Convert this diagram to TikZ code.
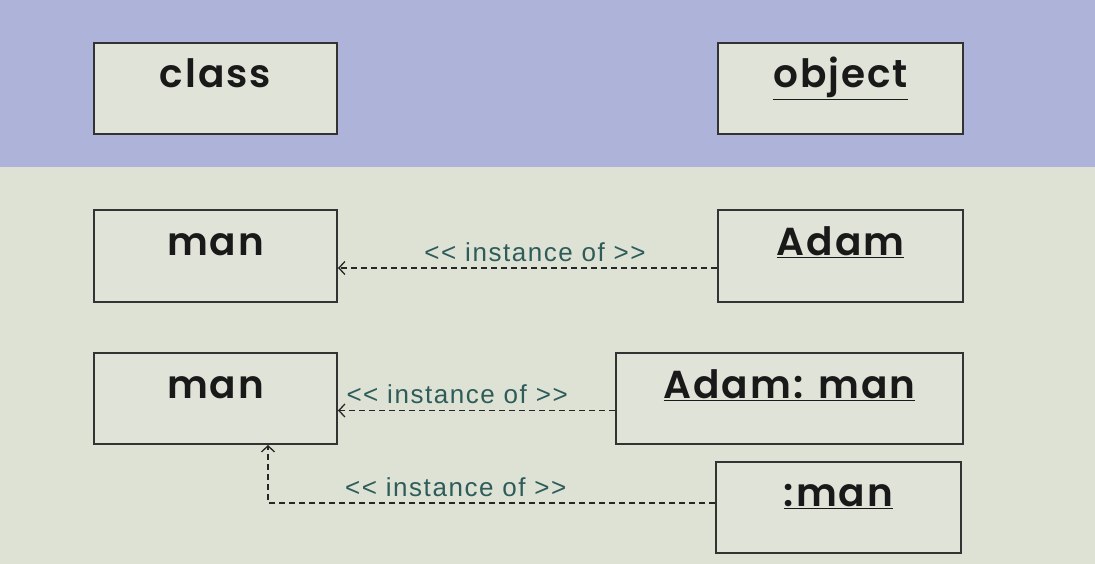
\documentclass[tikz,border=0pt]{standalone}
\usepackage{fontspec}
\setmainfont{Liberation Sans}
\newfontfamily\boxfont{Poppins SemiBold}[LetterSpace=5]
\newfontfamily\labelfont{Liberation Sans}[LetterSpace=6]
\usetikzlibrary{arrows.meta,positioning}
\definecolor{band}{HTML}{ADB3D9}
\definecolor{paper}{HTML}{DEE2D5}
\definecolor{boxfill}{HTML}{E0E4D8}
\definecolor{labelcol}{HTML}{2E5C5A}

\begin{document}
\begin{tikzpicture}[x=1pt, y=-1pt, -{Straight Barb[length=6pt,width=13pt]}, auto, thick]
			\tikzset{umlbox/.style={draw=black!80, line width=2pt, fill=boxfill, text=black!90,
				font=\boxfont\fontsize{39}{41}\selectfont,
				minimum width=243pt, inner xsep=0pt, inner ysep=15pt, text height=30pt, text depth=31pt}}
			\tikzset{inst/.style={dash pattern=on 6pt off 4pt, line width=1.3pt, draw=black!85}}
			\tikzset{instlabel/.style={text=labelcol, font=\labelfont\fontsize{26}{29}\selectfont, inner sep=6pt}}
			% Colors: band, paper, boxfill, labelcol

			% Background
			\useasboundingbox (0,0) rectangle (1095,564);
			\fill[paper] (0,0) rectangle (1095,564);
			\fill[band] (0,0) rectangle (1095,167);

			% Boxes
			\node[umlbox] (class) at (215.5,88.5) {class};
			\node[umlbox, minimum width=245pt] (object) [right=379pt of class] {\underline{object}};
			\node[umlbox] (man1) at (215.5,256) {man};
			\node[umlbox, minimum width=245pt] (adam) [right=379pt of man1] {\underline{Adam}};
			\node[umlbox] (man2) at (215.5,398.5) {man};
			\node[umlbox, minimum width=347pt] (adamman) [right=277pt of man2] {\underline{Adam: man}};
			\node[umlbox, minimum width=245pt] (anon) at (838.5,507) {\underline{:man}};

			% Instance of
			\path
				([yshift=-12pt]adam.west)	edge [inst]	node [instlabel, swap, pos=0.48]	{<{}< instance of >{}>}	([yshift=-12pt]man1.east)
				([yshift=-12pt]adamman.west)	edge [inst]	node [instlabel, swap, pos=0.57]	{<{}< instance of >{}>}	([yshift=-12pt]man2.east)
				;
			\draw[inst] ([yshift=4pt]anon.west) -| node [instlabel, pos=0.29, above] {<{}< instance of >{}>} ([xshift=52.5pt]man2.south);
	\end{tikzpicture}
\end{document}
